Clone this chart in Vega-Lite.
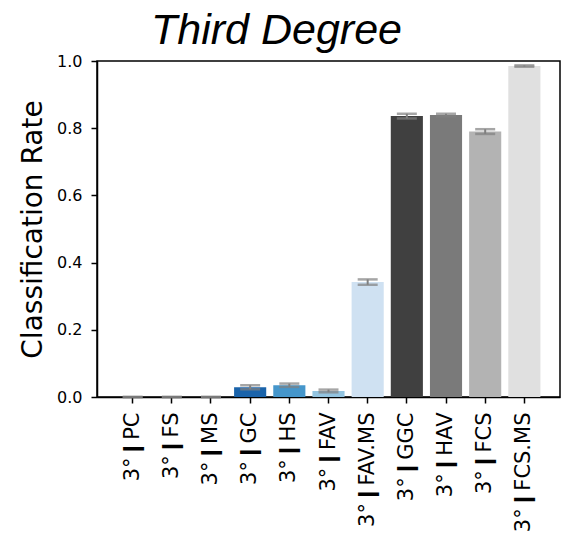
{
  "$schema": "https://vega.github.io/schema/vega-lite/v6.json",
  "width": 463,
  "height": 336,
  "autosize": {"type": "none"},
  "padding": {"left": 97, "top": 61, "right": 2, "bottom": 138},
  "config": {
    "font": "DejaVu Sans",
    "view": {"stroke": "black", "strokeWidth": 1.5}
  },
  "title": {
    "text": "Third Degree",
    "font": "Liberation Sans",
    "fontStyle": "italic",
    "fontWeight": "normal",
    "fontSize": 43,
    "color": "black",
    "anchor": "middle",
    "baseline": "alphabetic",
    "offset": 16,
    "dx": -52,
    "dy": 50
  },
  "data": {
    "values": [
      {"model": "3°❙PC", "rate": 0.0, "err": 0.0005},
      {"model": "3°❙FS", "rate": 0.0, "err": 0.0005},
      {"model": "3°❙MS", "rate": 0.0, "err": 0.0005},
      {"model": "3°❙GC", "rate": 0.029, "err": 0.006},
      {"model": "3°❙HS", "rate": 0.035, "err": 0.005},
      {"model": "3°❙FAV", "rate": 0.018, "err": 0.004},
      {"model": "3°❙FAV.MS", "rate": 0.342, "err": 0.008},
      {"model": "3°❙GGC", "rate": 0.836, "err": 0.007},
      {"model": "3°❙HAV", "rate": 0.839, "err": 0.004},
      {"model": "3°❙FCS", "rate": 0.790, "err": 0.007},
      {"model": "3°❙FCS.MS", "rate": 0.985, "err": 0.002}
    ]
  },
  "encoding": {
    "x": {
      "field": "model",
      "type": "nominal",
      "sort": null,
      "scale": {"paddingInner": 0.18, "paddingOuter": 0.5},
      "axis": {
        "title": null,
        "labelAngle": -90,
        "labelAlign": "right",
        "labelBaseline": "middle",
        "labelFont": "DejaVu Sans",
        "labelFontSize": 21,
        "labelColor": "black",
        "labelPadding": 9,
        "tickSize": 6,
        "tickWidth": 1.5,
        "tickColor": "black",
        "domainColor": "black",
        "domainWidth": 1.5
      }
    },
    "y": {
      "field": "rate",
      "type": "quantitative",
      "scale": {"domain": [0, 1], "nice": false},
      "axis": {
        "title": "Classification Rate",
        "titleFont": "DejaVu Sans",
        "titleFontSize": 28,
        "titleFontWeight": "normal",
        "titleColor": "black",
        "titlePadding": 9,
        "values": [0, 0.2, 0.4, 0.6, 0.8, 1.0],
        "format": ".1f",
        "grid": false,
        "labelFontSize": 16,
        "labelColor": "black",
        "labelPadding": 9,
        "tickSize": 6,
        "tickWidth": 1.5,
        "tickColor": "black",
        "domainColor": "black",
        "domainWidth": 1.5
      }
    }
  },
  "layer": [
    {
      "mark": {"type": "bar"},
      "encoding": {
        "color": {
          "field": "model",
          "type": "nominal",
          "legend": null,
          "scale": {
            "domain": ["3°❙PC", "3°❙FS", "3°❙MS", "3°❙GC", "3°❙HS", "3°❙FAV", "3°❙FAV.MS", "3°❙GGC", "3°❙HAV", "3°❙FCS", "3°❙FCS.MS"],
            "range": ["#08306b", "#08458a", "#0b559f", "#1a63aa", "#4596cb", "#93c4e0", "#cfe1f2", "#404040", "#7a7a7a", "#b3b3b3", "#e0e0e0"]
          }
        }
      }
    },
    {
      "mark": {
        "type": "errorbar",
        "color": "#808080",
        "thickness": 2,
        "ticks": {"size": 20, "thickness": 2.5, "color": "#808080"}
      },
      "encoding": {
        "yError": {"field": "err"}
      }
    }
  ]
}
